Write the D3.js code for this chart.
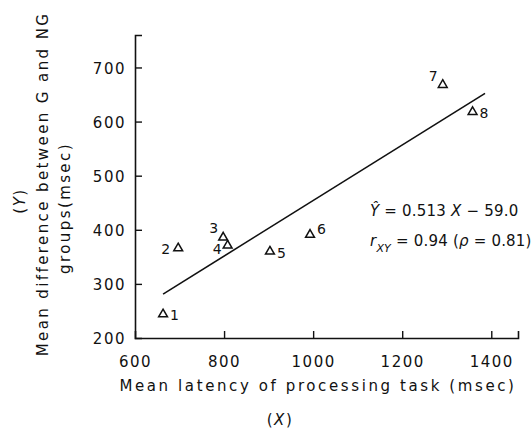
<!DOCTYPE html>
<html>
<head>
<meta charset="utf-8">
<script src="https://cdn.jsdelivr.net/npm/d3@7"></script>
<style>
  html, body { margin: 0; padding: 0; background: #fff; }
  svg { display: block; }
  text { font-family: "DejaVu Sans", sans-serif; fill: #111; }
</style>
</head>
<body>
<svg id="chart" width="532" height="429"></svg>
<script>
// ---- data ----
const pointIds = ["1", "2", "3", "4", "5", "6", "7", "8"];
const latencyX = [663, 697, 798, 808, 903, 993, 1291, 1358];
const differenceY = [242, 364, 384, 369, 358, 389, 666, 616];
const labelSide = ["right", "left", "upleft", "lowleft", "right", "upright", "upleft", "right"];
const xTicks = [600, 800, 1000, 1200, 1400];
const yTicks = [200, 300, 400, 500, 600, 700];
const slope = 0.513, intercept = -59.0;
const fitRange = [663, 1386];

const svg = d3.select("#chart");
const x = d3.scaleLinear().domain([600, 1460]).range([135, 518]);
const y = d3.scaleLinear().domain([200, 760]).range([338, 35]);

const ink = "#111";

// axes
const xAxis = d3.axisBottom(x).tickValues(xTicks).tickSize(-7).tickPadding(18).tickFormat(d3.format("d"));
const yAxis = d3.axisLeft(y).tickValues(yTicks).tickSize(-7).tickPadding(9).tickFormat(d3.format("d"));

const gx = svg.append("g").attr("transform", `translate(0,${y(200)})`).call(xAxis);
const gy = svg.append("g").attr("transform", `translate(${x(600)},0)`).call(yAxis);
[gx, gy].forEach(g => {
  g.select(".domain").attr("stroke", ink).attr("stroke-width", 1.6);
  g.selectAll(".tick line").attr("stroke", ink).attr("stroke-width", 1.4);
  g.selectAll(".tick text").attr("font-family", "DejaVu Sans").attr("font-size", 15)
    .attr("letter-spacing", 1.5).attr("fill", ink);
});
gx.selectAll(".tick").filter(d => d === 600).select("line").remove();
gy.selectAll(".tick").filter(d => d === 200).select("line").remove();
gy.selectAll(".tick text").attr("dy", "0.38em");

// fit line
svg.append("line")
  .attr("x1", x(fitRange[0])).attr("y1", y(slope * fitRange[0] + intercept))
  .attr("x2", x(fitRange[1])).attr("y2", y(slope * fitRange[1] + intercept))
  .attr("stroke", ink).attr("stroke-width", 1.6);

// points
const tri = d3.symbol().type(d3.symbolTriangle).size(34);
const pts = svg.append("g").selectAll("g").data(pointIds).join("g")
  .attr("transform", (d, i) => `translate(${x(latencyX[i])},${y(differenceY[i])})`);
pts.append("path").attr("d", tri).attr("fill", "none").attr("stroke", ink).attr("stroke-width", 1.5)
  .attr("transform", "translate(0,-1)");
const off = {
  right: [7, 5, "start"], left: [-8, 5, "end"], lowleft: [-6, 7, "end"],
  upleft: [-5, -5, "end"], upright: [7, -2, "start"]
};
pts.append("text")
  .attr("x", (d, i) => off[labelSide[i]][0])
  .attr("y", (d, i) => off[labelSide[i]][1])
  .attr("text-anchor", (d, i) => off[labelSide[i]][2])
  .attr("font-size", 14)
  .text(d => d);

// equation annotations
const eq = svg.append("text").attr("x", 370).attr("y", 216).attr("font-size", 15).attr("letter-spacing", 0.2);
eq.append("tspan").attr("font-style", "italic").text("Ŷ");
eq.append("tspan").text(" = 0.513 ");
eq.append("tspan").attr("font-style", "italic").text("X");
eq.append("tspan").text(" − 59.0");

const rr = svg.append("text").attr("x", 370).attr("y", 246).attr("font-size", 15).attr("letter-spacing", 0.2);
rr.append("tspan").attr("font-style", "italic").text("r");
rr.append("tspan").attr("font-style", "italic").attr("font-size", 11).attr("dy", 6).text("XY");
rr.append("tspan").attr("dy", -6).text(" = 0.94 (");
rr.append("tspan").attr("font-style", "italic").text("ρ");
rr.append("tspan").text(" = 0.81)");

// axis titles
svg.append("text").attr("x", 318).attr("y", 391).attr("text-anchor", "middle")
  .attr("font-size", 15).attr("letter-spacing", 2.6)
  .text("Mean latency of processing task (msec)");
const xl = svg.append("text").attr("x", 280).attr("y", 425).attr("text-anchor", "middle")
  .attr("font-size", 15).attr("letter-spacing", 1.5);
xl.append("tspan").text("(");
xl.append("tspan").attr("font-style", "italic").text("X");
xl.append("tspan").text(")");

const yl = svg.append("g");
const yl1 = yl.append("text").attr("transform", "translate(25,201) rotate(-90)").attr("text-anchor", "middle")
  .attr("font-size", 15).attr("letter-spacing", 1.5);
yl1.append("tspan").text("(");
yl1.append("tspan").attr("font-style", "italic").text("Y");
yl1.append("tspan").text(")");
yl.append("text").attr("transform", "translate(48,184) rotate(-90)").attr("text-anchor", "middle")
  .attr("font-size", 15).attr("letter-spacing", 2.4)
  .text("Mean difference between G and NG");
yl.append("text").attr("transform", "translate(70,208) rotate(-90)").attr("text-anchor", "middle")
  .attr("font-size", 15).attr("letter-spacing", 2.4)
  .text("groups(msec)");
</script>
</body>
</html>
